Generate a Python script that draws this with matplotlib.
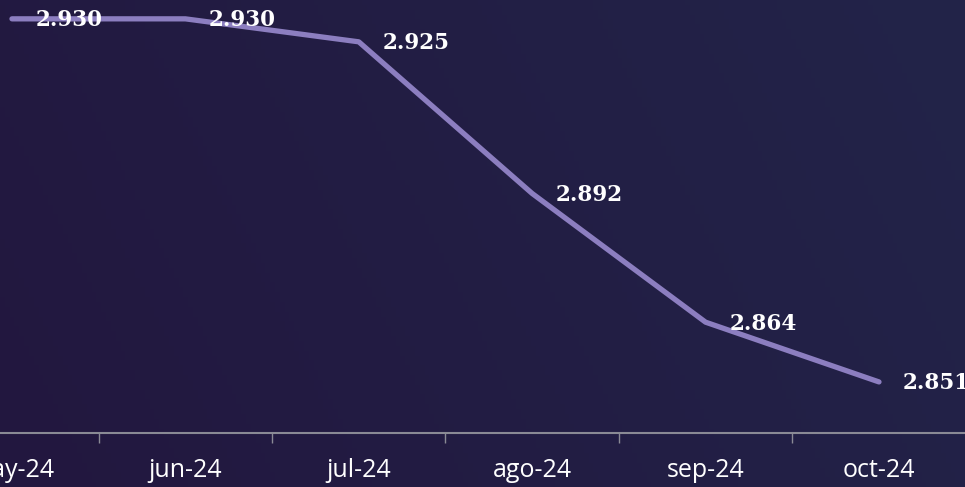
import matplotlib.pyplot as plt
import numpy as np
from matplotlib.colors import LinearSegmentedColormap

# Datos
meses = ['may-24', 'jun-24', 'jul-24', 'ago-24', 'sep-24', 'oct-24']
valores = [2.930, 2.930, 2.925, 2.892, 2.864, 2.851]
etiquetas = ['2.930', '2.930', '2.925', '2.892', '2.864', '2.851']

fig = plt.figure(figsize=(9.65, 4.87), dpi=100)

# Fondo con degradado
bg = fig.add_axes([0, 0, 1, 1])
cmap = LinearSegmentedColormap.from_list('fondo', ['#22173f', '#232449'])
xx, yy = np.meshgrid(np.linspace(0, 1, 200), np.linspace(0, 1, 100))
bg.imshow(0.8 * xx + 0.2 * (1 - yy), cmap=cmap, aspect='auto', extent=[0, 1, 0, 1])
bg.axis('off')

ax = fig.add_axes([0, 0.111, 1, 0.889])
ax.patch.set_alpha(0)
x = np.arange(len(meses))
ax.plot(x, valores, color='#8c7ec0', linewidth=3.8, solid_capstyle='round',
        solid_joinstyle='round', clip_on=False)

for xi, v, t in zip(x, valores, etiquetas):
    ax.annotate(t, (xi, v), xytext=(17, -1), textcoords='offset points',
                ha='left', va='center', color='white', fontsize=15.5,
                fontweight='bold', family='DejaVu Serif', annotation_clip=False)

ax.set_xlim(-0.069, 5.496)
ax.set_ylim(2.8399, 2.9341)

for s in ['top', 'left', 'right']:
    ax.spines[s].set_visible(False)
ax.spines['bottom'].set_color('#8a8a95')
ax.spines['bottom'].set_linewidth(1.5)
ax.set_yticks([])

ax.set_xticks(x)
ax.set_xticklabels(meses, color='white', fontsize=18, family='Open Sans')
ax.tick_params(axis='x', which='major', length=0, pad=18)
ax.set_xticks(x[:-1] + 0.5, minor=True)
ax.tick_params(axis='x', which='minor', length=7, color='#8a8a95', width=1)

fig.savefig('out.png', dpi=100, facecolor='#22173f')
